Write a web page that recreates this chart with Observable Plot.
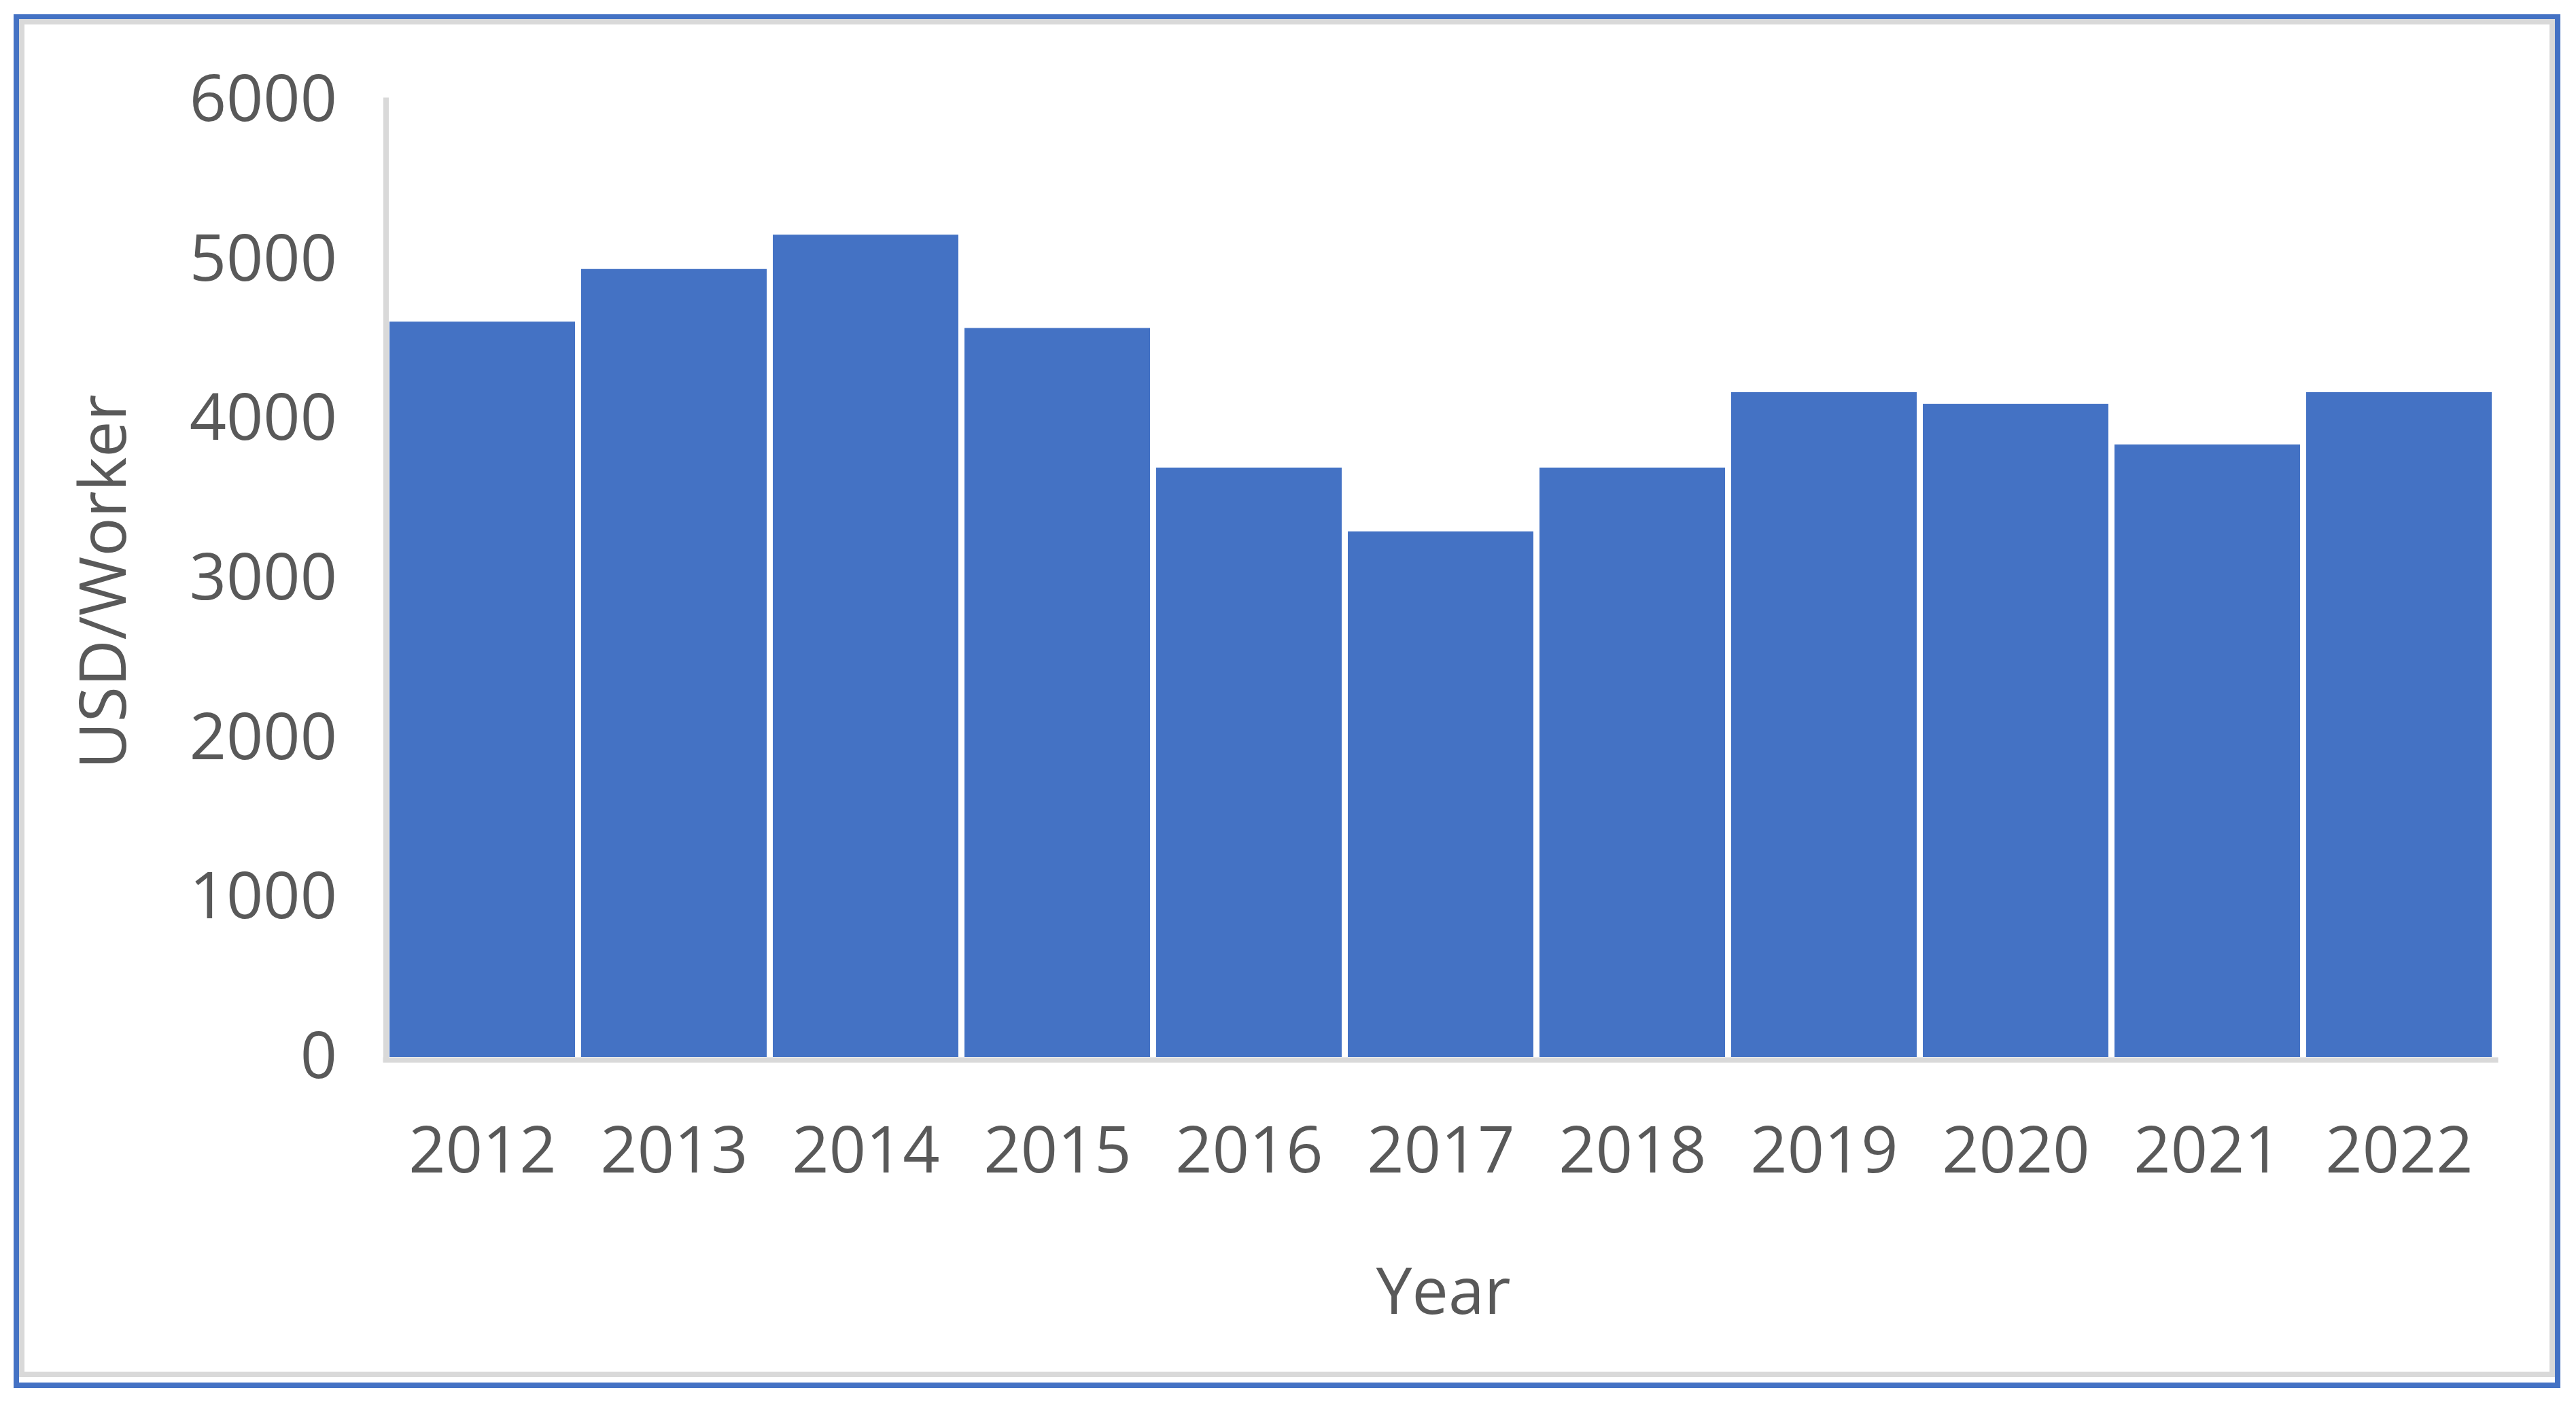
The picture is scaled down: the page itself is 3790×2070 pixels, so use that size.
<!DOCTYPE html>
<html>
<head>
<meta charset="utf-8">
<script src="https://cdn.jsdelivr.net/npm/d3@7"></script>
<script src="https://cdn.jsdelivr.net/npm/@observablehq/plot@0.6"></script>
<style>
  html, body { margin: 0; padding: 0; background: #ffffff; }
  #wrap { position: relative; width: 3790px; height: 2070px; overflow: hidden; }
  #chart { position: absolute; left: 0; top: 0; }
  .box { position: absolute; box-sizing: border-box; pointer-events: none; }
  #outer { left: 20px; top: 21px; width: 3747px; height: 2021px; border: 8px solid #4472C4; }
  #inner { left: 28px; top: 28px; width: 3731px; height: 1998px; border: 8px solid #d9d9d9; }
</style>
</head>
<body>
<div id="wrap">
  <div id="chart"></div>
  <div class="box" id="outer"></div>
  <div class="box" id="inner"></div>
</div>
<script>
const years = ["2012", "2013", "2014", "2015", "2016", "2017", "2018", "2019", "2020", "2021", "2022"];
const values = [4610, 4940, 5155, 4570, 3695, 3295, 3695, 4168, 4095, 3840, 4168];
const yTicks = [0, 1000, 2000, 3000, 4000, 5000, 6000];
const yLabel = "USD/Worker";
const xLabel = "Year";

const data = years.map((y, i) => ({year: y, value: values[i]}));

const FONT = "'Open Sans', 'Noto Sans', sans-serif";
const TEXT = "#595959";
const GRAY = "#d9d9d9";
const BLUE = "#4472C4";

const plot = Plot.plot({
  width: 3790,
  height: 2070,
  marginLeft: 567.5,
  marginRight: 118.5,
  marginTop: 147,
  marginBottom: 515,
  style: {background: "none", fontFamily: FONT, color: TEXT, overflow: "visible"},
  x: {type: "band", domain: years, paddingInner: 0.032, paddingOuter: 0.016, align: 0.5},
  y: {domain: [0, 6000]},
  marks: [
    Plot.barY(data, {x: "year", y: "value", fill: BLUE}),
    Plot.frame({anchor: "left", stroke: GRAY, strokeWidth: 8}),
    Plot.ruleY([0], {stroke: GRAY, strokeWidth: 8, dy: 4, insetLeft: -4, insetRight: -4}),
    Plot.axisY({ticks: yTicks, tickSize: 0, tickPadding: 72, fontSize: 95, fill: TEXT, label: null, tickFormat: d => String(d)}),
    Plot.axisX({tickSize: 0, tickPadding: 102.5, fontSize: 95, fill: TEXT, label: null}),
    Plot.text([xLabel], {frameAnchor: "bottom", lineAnchor: "bottom", textAnchor: "middle", dx: 3.5, dy: 377, fontSize: 95, fill: TEXT, text: d => d}),
    Plot.text([yLabel], {frameAnchor: "left", lineAnchor: "bottom", textAnchor: "middle", rotate: -90, dx: -383.5, dy: 4.5, fontSize: 95, fill: TEXT, text: d => d})
  ]
});
document.getElementById("chart").appendChild(plot);
</script>
</body>
</html>
